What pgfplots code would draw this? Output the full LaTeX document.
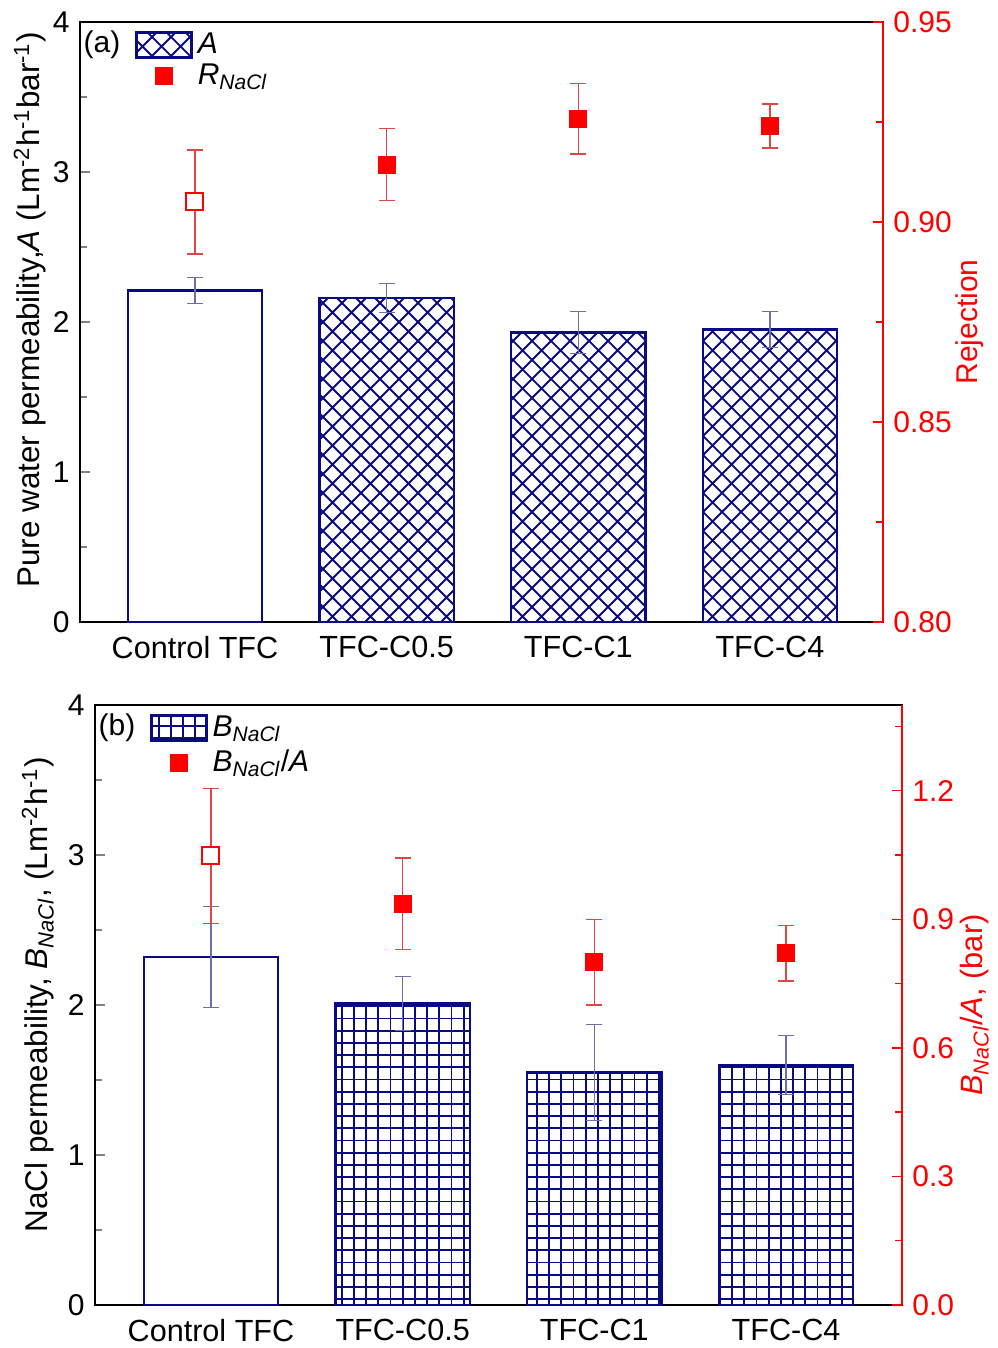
\documentclass[border=0pt]{standalone}
\usepackage{fontspec}
\setmainfont{Liberation Sans}
\usepackage{pgfplots}
\pgfplotsset{compat=1.18}
\usetikzlibrary{patterns}
\definecolor{navy}{RGB}{10,10,130}
\definecolor{errblue}{RGB}{110,110,175}
\definecolor{errred}{RGB}{225,70,70}

\pgfdeclarepatternformonly{diagcross}{\pgfqpoint{-0.5pt}{-0.5pt}}{\pgfqpoint{10pt}{10pt}}{\pgfqpoint{9.5pt}{9.5pt}}{%
  \pgfsetlinewidth{0.9pt}%
  \pgfpathmoveto{\pgfqpoint{0pt}{0pt}}\pgfpathlineto{\pgfqpoint{9.5pt}{9.5pt}}%
  \pgfpathmoveto{\pgfqpoint{0pt}{9.5pt}}\pgfpathlineto{\pgfqpoint{9.5pt}{0pt}}%
  \pgfusepath{stroke}}
\pgfdeclarepatternformonly{biggrid}{\pgfqpoint{-0.5pt}{-0.5pt}}{\pgfqpoint{6.6pt}{6.6pt}}{\pgfqpoint{6.1pt}{6.1pt}}{%
  \pgfsetlinewidth{0.9pt}%
  \pgfpathmoveto{\pgfqpoint{0pt}{0pt}}\pgfpathlineto{\pgfqpoint{6.1pt}{0pt}}%
  \pgfpathmoveto{\pgfqpoint{0pt}{0pt}}\pgfpathlineto{\pgfqpoint{0pt}{6.1pt}}%
  \pgfusepath{stroke}}

\pgfplotstableread{
x  A     Aerr
0  2.21  0.085
}\Actrl
\pgfplotstableread{
x  A     Aerr
1  2.16  0.095
2  1.93  0.14
3  1.95  0.12
}\Amod
\pgfplotstableread{
x  R      Rerr
0  0.905  0.013
}\Rctrl
\pgfplotstableread{
x  R       Rerr
1  0.9143  0.009
2  0.9258  0.0088
3  0.924   0.0055
}\Rmod
\pgfplotstableread{
x  B     Berr
0  2.32  0.335
}\Bctrl
\pgfplotstableread{
x  B     Berr
1  2.01  0.18
2  1.55  0.32
3  1.60  0.195
}\Bmod
\pgfplotstableread{
x  BA     BAerr
0  1.048  0.157
}\BActrl
\pgfplotstableread{
x  BA     BAerr
1  0.936  0.107
2  0.80   0.10
3  0.821  0.065
}\BAmod

\pgfplotsset{
  base/.style={
    scale only axis, width=401.5pt, height=300pt,
    tick align=inside,
    major tick length=5pt, minor tick length=3.5pt,
    axis line style={line width=0.9pt},
    tick style={line width=0.7pt},
    /pgf/number format/assume math mode=true,
    clip=false,
  },
  leftax/.style={
    base,
    ymin=0, ymax=4,
    ytick={0,1,2,3,4}, minor ytick={0.5,1.5,2.5,3.5},
    ytick pos=left,
    xtick={0,1,2,3},
    xticklabels={Control TFC, TFC-C0.5, TFC-C1, TFC-C4},
    every major x tick/.append style={draw=none},
    xtick pos=bottom,
    xticklabel style={yshift=-2pt, font=\fontsize{15.3}{18}\selectfont},
  },
  rightax/.style={
    base,
    axis y line*=right, axis x line=none,
    axis line style={red, line width=0.9pt},
    tick style={red, line width=0.7pt},
    yticklabel style={red},
    ylabel style={red},
  },
  barstyle/.style={ybar, bar width=0.7, bar shift=0pt, draw=navy, line width=1.2pt,
    error bars/y dir=both, error bars/y explicit,
    error bars/error bar style={errblue, line width=0.6pt},
    error bars/error mark options={rotate=90, errblue, line width=0.6pt, mark size=4pt}},
  markstyle/.style={only marks, mark=square*, mark size=4.25pt,
    error bars/y dir=both, error bars/y explicit,
    error bars/error bar style={errred, line width=0.6pt},
    error bars/error mark options={rotate=90, errred, line width=0.6pt, mark size=4pt}},
  barlegend/.style={legend image code/.code={\draw[##1] (0pt,-6.25pt) rectangle (27.5pt,6.25pt); \path (28pt,0pt);}},
  marklegend/.style={legend image code/.code={\draw[mark repeat=2,mark phase=2,##1] plot coordinates {(0pt,0pt) (13.75pt,0pt) (27.5pt,0pt)}; \path (28pt,0pt);}},
}

\begin{document}
\fontsize{15}{18}\selectfont
\begin{tikzpicture}
\useasboundingbox (0,0) rectangle (498.5pt,674pt);

% ---------------- panel (a) ----------------
\begin{axis}[leftax, at={(40pt,363pt)}, anchor=south west,
  xmin=-0.6, xmax=3.59,
  ylabel={Pure water permeability,\textit{A} (Lm\textsuperscript{-2}h\textsuperscript{-1}bar\textsuperscript{-1})},
  ylabel style={at={(axis description cs:0,0.52)}, anchor=center, yshift=25pt, font=\fontsize{15.7}{18}\selectfont},
]
\addplot[barstyle, fill=white] table[x=x, y=A, y error=Aerr] {\Actrl};
\addplot[barstyle, pattern=diagcross, pattern color=navy] table[x=x, y=A, y error=Aerr] {\Amod};
\node[anchor=north west, inner sep=0pt] at (rel axis cs:0.004,0.986) {(a)};
\end{axis}

\begin{axis}[rightax, at={(40pt,363pt)}, anchor=south west,
  xmin=-0.6, xmax=3.59,
  ymin=0.80, ymax=0.95,
  ytick={0.80,0.85,0.90,0.95}, minor ytick={0.825,0.875,0.925},
  yticklabel style={/pgf/number format/.cd, fixed, fixed zerofill, precision=2},
  ylabel={Rejection},
  ylabel style={at={(axis description cs:1,0.5)}, anchor=center, yshift=-43.5pt},
  legend style={at={(0.0685,0.99)}, anchor=north west, draw=none, fill=none,
    inner sep=0pt, row sep=-1pt, cells={anchor=west}},
]
\addlegendimage{barlegend, draw=navy, line width=1.2pt, pattern=diagcross, pattern color=navy}
\addlegendentry{\textit{A}}
\addplot[markstyle, mark options={draw=red, fill=white, line width=1pt}, forget plot] table[x=x, y=R, y error=Rerr] {\Rctrl};
\addplot[markstyle, marklegend, mark options={draw=red, fill=red}] table[x=x, y=R, y error=Rerr] {\Rmod};
\addlegendentry{\textit{R}\textsubscript{\textit{NaCl}}}
\end{axis}

% ---------------- panel (b) ----------------
\begin{axis}[leftax, at={(47.5pt,21.5pt)}, anchor=south west, width=403.5pt,
  xmin=-0.605, xmax=3.605,
  ylabel={NaCl permeability, \textit{B}\textsubscript{\textit{NaCl}}, (Lm\textsuperscript{-2}h\textsuperscript{-1})},
  ylabel style={at={(axis description cs:0,0.517)}, anchor=center, yshift=28.5pt, font=\fontsize{15.7}{18}\selectfont},
]
\addplot[barstyle, fill=white] table[x=x, y=B, y error=Berr] {\Bctrl};
\addplot[barstyle, pattern=biggrid, pattern color=navy] table[x=x, y=B, y error=Berr] {\Bmod};
\node[anchor=north west, inner sep=0pt] at (rel axis cs:0.004,0.986) {(b)};
\end{axis}

\begin{axis}[rightax, at={(47.5pt,21.5pt)}, anchor=south west, width=403.5pt,
  xmin=-0.605, xmax=3.605,
  ymin=0, ymax=1.4,
  ytick={0,0.3,0.6,0.9,1.2}, minor ytick={0.15,0.45,0.75,1.05,1.35},
  yticklabel style={/pgf/number format/.cd, fixed, fixed zerofill, precision=1},
  ylabel={\textit{B}\textsubscript{\textit{NaCl}}/\textit{A}, (bar)},
  ylabel style={at={(axis description cs:1,0.5)}, anchor=center, yshift=-36.5pt, font=\fontsize{15.4}{18}\selectfont},
  legend style={at={(0.068,0.99)}, anchor=north west, draw=none, fill=none,
    inner sep=0pt, row sep=0.5pt, cells={anchor=west}},
]
\addlegendimage{barlegend, draw=navy, line width=1.2pt, pattern=biggrid, pattern color=navy}
\addlegendentry{\textit{B}\textsubscript{\textit{NaCl}}}
\addplot[markstyle, mark options={draw=red, fill=white, line width=1pt}, forget plot] table[x=x, y=BA, y error=BAerr] {\BActrl};
\addplot[markstyle, marklegend, mark options={draw=red, fill=red}] table[x=x, y=BA, y error=BAerr] {\BAmod};
\addlegendentry{\textit{B}\textsubscript{\textit{NaCl}}/\textit{A}}
\end{axis}
\end{tikzpicture}
\end{document}
